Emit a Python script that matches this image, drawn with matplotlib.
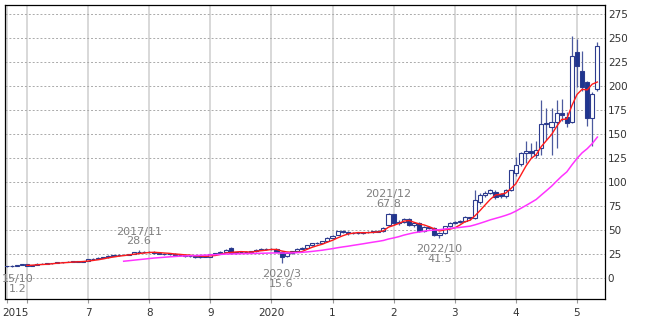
import numpy as np
import pandas as pd
import matplotlib
matplotlib.use('Agg')
import matplotlib.pyplot as plt
from matplotlib.transforms import ScaledTranslation

# monthly candles 2015/9 .. 2025/5
months = pd.period_range('2015-09', '2025-05', freq='M')

opens = [
    12.0, 12.3, 12.5, 13.5,                                                   # 2015/9-12
    14.2, 12.8, 13.2, 14.8, 15.0, 15.3, 15.5, 16.2, 16.5, 17.0, 17.2, 17.0,   # 2016
    17.5, 19.2, 20.0, 21.0, 21.5, 23.0, 23.5, 24.0, 24.3, 25.0, 26.5, 27.0,   # 2017
    26.8, 27.2, 25.8, 25.0, 24.8, 25.2, 24.0, 23.8, 22.5, 23.2, 21.8, 22.8,   # 2018
    22.2, 24.5, 25.5, 27.5, 31.5, 25.5, 27.0, 27.5, 26.5, 27.8, 29.5, 30.5,   # 2019
    30.0, 30.5, 27.5, 22.5, 25.5, 28.0, 30.5, 31.0, 34.0, 36.0, 36.5, 38.0,   # 2020
    42.0, 45.0, 48.5, 47.5, 47.0, 46.5, 46.8, 47.5, 48.0, 48.2, 48.5, 55.0,   # 2021
    66.5, 57.0, 58.0, 61.5, 55.5, 57.5, 48.5, 53.0, 52.0, 44.5, 47.0, 54.0,   # 2022
    57.0, 58.5, 59.5, 63.5, 62.0, 79.0, 86.0, 89.0, 90.0, 87.0, 85.0, 92.0,   # 2023
    109.0, 119.0, 130.0, 132.6, 128.0, 135.0, 160.0, 157.0, 163.0, 172.0, 168.0, 163.0,  # 2024
    236.0, 216.0, 204.0, 167.0, 197.0,                                        # 2025
]
highs = [
    12.8, 13.0, 13.8, 14.5,
    14.6, 13.6, 15.2, 15.4, 15.8, 16.0, 16.6, 16.9, 17.3, 17.6, 17.7, 17.9,
    19.6, 20.4, 21.4, 22.0, 23.4, 24.0, 24.4, 24.7, 25.4, 27.0, 28.6, 27.6,
    27.8, 27.6, 26.4, 25.6, 25.8, 25.6, 24.6, 24.2, 23.6, 23.8, 23.4, 23.4,
    24.8, 26.0, 28.0, 30.0, 32.0, 27.5, 28.2, 28.4, 28.0, 30.0, 31.2, 31.2,
    31.5, 31.0, 28.0, 26.5, 28.5, 31.0, 31.8, 34.5, 36.5, 37.2, 38.5, 42.5,
    45.0, 49.0, 49.5, 48.5, 48.0, 48.0, 48.2, 48.6, 49.2, 50.0, 53.5, 67.8,
    66.8, 60.5, 62.5, 62.0, 58.5, 58.0, 54.0, 54.5, 53.0, 48.0, 54.5, 58.5,
    59.5, 60.5, 64.5, 64.0, 92.0, 88.0, 91.0, 93.0, 92.0, 88.0, 93.0, 113.0,
    126.0, 131.0, 143.0, 141.0, 143.0, 185.0, 177.0, 177.0, 185.0, 187.0, 173.0, 252.0,
    249.0, 237.0, 205.0, 194.0, 246.0,
]
lows = [
    11.6, 11.8, 12.2, 13.0,
    12.4, 12.4, 13.0, 14.2, 14.6, 15.0, 15.2, 15.8, 16.1, 16.6, 16.6, 16.7,
    17.3, 18.8, 19.6, 20.6, 21.2, 22.6, 23.0, 23.5, 23.8, 24.6, 26.0, 26.2,
    26.0, 25.4, 24.6, 24.2, 24.2, 23.6, 23.2, 22.2, 22.0, 21.2, 21.2, 21.6,
    21.8, 24.0, 25.0, 27.0, 25.0, 25.0, 26.6, 26.0, 26.0, 27.4, 29.0, 29.4,
    29.4, 27.0, 15.6, 21.8, 25.0, 27.5, 30.0, 30.6, 33.5, 35.0, 36.0, 37.6,
    41.5, 44.5, 46.5, 45.0, 45.5, 45.5, 46.0, 46.8, 47.2, 47.5, 48.0, 54.5,
    55.5, 55.5, 57.0, 54.5, 53.0, 47.5, 47.5, 50.5, 43.5, 41.5, 46.0, 53.0,
    56.0, 57.5, 58.5, 60.5, 61.0, 77.0, 84.0, 87.0, 82.0, 83.0, 83.0, 91.0,
    106.0, 117.0, 120.0, 125.0, 125.0, 128.0, 144.0, 128.0, 135.0, 164.0, 157.0, 162.0,
    199.0, 195.0, 158.0, 138.0, 195.0,
]
closes = [
    12.3, 12.5, 13.5, 14.2,
    12.8, 13.2, 14.8, 15.0, 15.3, 15.5, 16.2, 16.5, 17.0, 17.2, 17.0, 17.5,
    19.2, 20.0, 21.0, 21.5, 23.0, 23.5, 24.0, 24.3, 25.0, 26.5, 27.0, 26.8,
    27.2, 25.8, 25.0, 24.8, 25.2, 24.0, 23.8, 22.5, 23.2, 21.8, 22.8, 22.2,
    24.5, 25.5, 27.5, 29.5, 25.5, 27.0, 27.5, 26.5, 27.8, 29.5, 30.5, 30.0,
    30.5, 27.5, 22.0, 25.5, 28.0, 30.5, 31.0, 34.0, 36.0, 36.5, 38.0, 42.0,
    43.5, 48.5, 47.5, 47.0, 46.5, 46.8, 47.5, 48.0, 48.5, 49.0, 52.5, 66.5,
    57.0, 58.5, 61.5, 55.5, 57.5, 48.5, 53.0, 52.0, 44.5, 46.5, 54.0, 57.0,
    58.5, 59.5, 63.5, 62.0, 81.0, 86.0, 89.0, 92.0, 84.0, 85.0, 92.0, 112.0,
    118.0, 130.0, 132.0, 130.0, 133.0, 160.0, 161.0, 163.0, 172.0, 170.0, 162.0, 231.0,
    221.0, 199.0, 167.0, 192.0, 242.0,
]

# high / low callouts
ann_months = ['2015-10', '2017-11', '2020-03', '2021-12', '2022-10']
ann_values = [1.2, 28.6, 15.6, 67.8, 41.5]
ann_labels = ['15/10\n1.2', '2017/11\n28.6', '2020/3\n15.6', '2021/12\n67.8', '2022/10\n41.5']
ann_side = ['low', 'high', 'low', 'high', 'low']

year_ticks = [2015 + 8 / 12] + list(range(2016, 2026))
year_labels = ['2015', '', '7', '8', '9', '2020', '1', '2', '3', '4', '5']
y_ticks = list(range(0, 276, 25))

NAVY = '#1f3590'
EDGE = '#2c3b8e'
WICK = '#4c5a9e'

df = pd.DataFrame({'o': opens, 'h': highs, 'l': lows, 'c': closes}, index=months)
x = np.array([p.year + (p.month - 1) / 12 for p in months])
ma_short = df['c'].rolling(5).mean()
ma_long = df['c'].rolling(24).mean()

plt.rcParams['font.family'] = ['DejaVu Sans']
fig = plt.figure(figsize=(6.5, 3.25), dpi=100)
ax = fig.add_axes([5 / 650, 1 - 299 / 325, 600 / 650, 294 / 325])

w = 0.8 / 12
up = df['c'].values >= df['o'].values
ax.vlines(x, df['l'], df['h'], color=WICK, lw=0.9, zorder=2)
body_lo = np.minimum(df['o'], df['c'])
body_h = np.abs(df['c'] - df['o'])
ax.bar(x[up], body_h[up], width=w, bottom=body_lo[up], color='white',
       edgecolor=EDGE, linewidth=0.8, zorder=3)
ax.bar(x[~up], body_h[~up], width=w, bottom=body_lo[~up], color=NAVY,
       edgecolor=EDGE, linewidth=0.8, zorder=3)

ax.plot(x, ma_short, color='#ff1a1a', lw=1.0, zorder=4)
ax.plot(x, ma_long, color='#ff33ff', lw=1.1, zorder=4)

for m, v, lab, side in zip(ann_months, ann_values, ann_labels, ann_side):
    p = pd.Period(m, freq='M')
    xv = p.year + (p.month - 1) / 12
    dx = 4.5 if m == '2015-10' else 0
    if side == 'high':
        ax.annotate(lab, (xv, v), xytext=(dx, 3), textcoords='offset points',
                    ha='center', va='bottom', fontsize=8, color='#808080',
                    linespacing=0.95, annotation_clip=False)
    else:
        ax.annotate(lab, (xv, v), xytext=(dx, -4.5 if m != '2015-10' else 2),
                    textcoords='offset points', ha='center', va='top',
                    fontsize=8, color='#808080', linespacing=0.95,
                    annotation_clip=False)

ax.set_xlim(2015 + 7.7 / 12, 2025 + 5.5 / 12)
ax.set_ylim(-22, 284.5)

ax.set_xticks(year_ticks)
ax.set_xticklabels(year_labels)
ax.set_yticks(y_ticks)
ax.yaxis.tick_right()
ax.tick_params(axis='x', length=3, width=0.8, color='#999999', pad=3.5,
               labelsize=7.5, labelcolor='#333333')
ax.tick_params(axis='y', length=0, pad=2, labelsize=7.5, labelcolor='#333333')
first = ax.get_xticklabels()[0]
first.set_horizontalalignment('left')
first.set_transform(first.get_transform() + ScaledTranslation(-4 / 100, 0, fig.dpi_scale_trans))

ax.grid(axis='x', color='#d6d6d6', lw=1.3, zorder=0)
ax.grid(axis='y', color='#aaaaaa', lw=0.7, ls=(0, (2, 2)), zorder=0)
ax.set_axisbelow(True)
for s in ax.spines.values():
    s.set_color('black')
    s.set_linewidth(0.9)

fig.savefig('out.png', dpi=100)
